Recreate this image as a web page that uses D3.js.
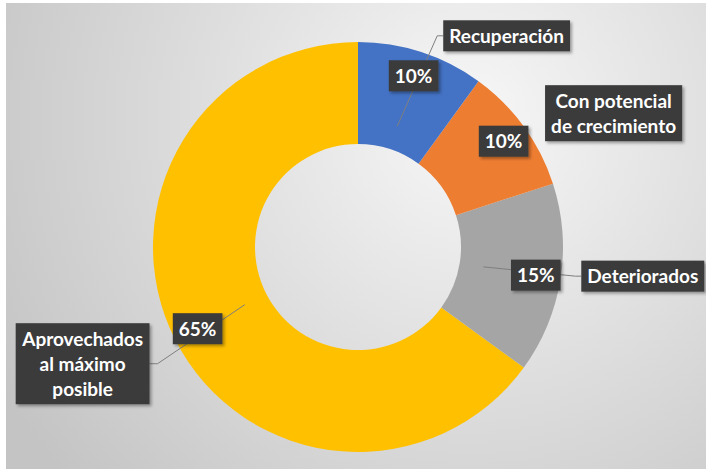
<!DOCTYPE html>
<html>
<head>
<meta charset="utf-8">
<script src="https://cdn.jsdelivr.net/npm/d3@7"></script>
<style>
  body { margin: 0; background: #fff; }
  text { font-family: Lato, "Open Sans", sans-serif; font-weight: bold; fill: #fff; }
</style>
</head>
<body>
<div id="chart"></div>
<script>
// data
const categories = ["Recuperación", "Con potencial\nde crecimiento", "Deteriorados", "Aprovechados\nal máximo\nposible"];
const values = [10, 10, 15, 65];
const colors = ["#4472c4", "#ed7d31", "#a5a5a5", "#ffc000"];

const width = 706, height = 469;
const cx = 358, cy = 247;
const outerR = 205, innerR = 103;
const labelR = 180, leaderR = 127;
const lineH = 25;
// where each category box sits, relative to its percent box (manual placement like the original)
const labelOffset = [[93, -40], [110, -28], [107, 1], [-115, 35]];
const showLeader = [true, false, true, true];

const svg = d3.select("#chart")
  .append("svg")
  .attr("width", width)
  .attr("height", height);

const defs = svg.append("defs");
const grad = defs.append("radialGradient")
  .attr("id", "bg")
  .attr("gradientUnits", "userSpaceOnUse")
  .attr("cx", 470).attr("cy", 120).attr("r", 540);
grad.append("stop").attr("offset", 0).attr("stop-color", "#f7f7f7");
grad.append("stop").attr("offset", 1).attr("stop-color", "#c4c4c4");

const shadow = defs.append("filter").attr("id", "shadow")
  .attr("x", "-20%").attr("y", "-20%").attr("width", "140%").attr("height", "140%");
shadow.append("feDropShadow")
  .attr("dx", 2).attr("dy", 2).attr("stdDeviation", 1.5)
  .attr("flood-color", "#000").attr("flood-opacity", 0.35);

svg.append("rect")
  .attr("x", 6).attr("y", 3)
  .attr("width", width - 6).attr("height", height - 3)
  .attr("fill", "url(#bg)");

const pie = d3.pie().sort(null).value(d => d);
const arcs = pie(values);
const arc = d3.arc().innerRadius(innerR).outerRadius(outerR);

const g = svg.append("g").attr("transform", "translate(" + cx + "," + cy + ")");

g.selectAll("path.slice")
  .data(arcs)
  .join("path")
  .attr("class", "slice")
  .attr("d", arc)
  .attr("fill", (d, i) => colors[i]);

const polar = (r, a) => [r * Math.sin(a), -r * Math.cos(a)];

// draw a dark label box with centered text lines, return its box
function labelBox(x, y, lines) {
  const box = g.append("g");
  const rect = box.append("rect").attr("fill", "#3a3a3a").attr("filter", "url(#shadow)");
  const t = box.append("text").attr("text-anchor", "middle").style("font-size", "19px");
  lines.forEach((l, k) => {
    t.append("tspan")
      .attr("x", x)
      .attr("y", y + (k - (lines.length - 1) / 2) * lineH)
      .attr("dy", "0.36em")
      .text(l);
  });
  const w = t.node().getBBox().width + 12;
  const h = lines.length * lineH + 6;
  rect.attr("x", x - w / 2).attr("y", y - h / 2).attr("width", w).attr("height", h);
  return { x: x - w / 2, y: y - h / 2, w: w, h: h };
}

const leaders = g.append("g");

arcs.forEach((d, i) => {
  const mid = (d.startAngle + d.endAngle) / 2;
  const [px, py] = polar(labelR, mid);
  const [lx, ly] = [px + labelOffset[i][0], py + labelOffset[i][1]];

  const catBox = labelBox(lx, ly, categories[i].split("\n"));
  labelBox(px, py, [d3.format(".0%")(d.value / 100)]);

  if (showLeader[i]) {
    const [sx, sy] = polar(leaderR, mid);
    const edge = lx > px ? catBox.x : catBox.x + catBox.w;
    const elbow = lx > px ? edge - 6 : edge + 8;
    leaders.append("path")
      .attr("d", d3.line()([[sx, sy], [elbow, ly], [edge, ly]]))
      .attr("fill", "none")
      .attr("stroke", "#7f7f7f")
      .attr("stroke-width", 1);
  }
});

leaders.lower();
g.selectAll("path.slice").lower();
</script>
</body>
</html>
